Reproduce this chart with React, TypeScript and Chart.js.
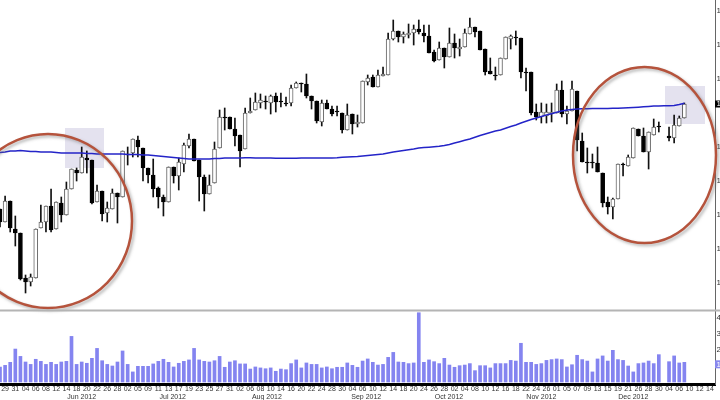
import React, { useEffect, useRef } from 'react'
import { Chart, registerables } from 'chart.js'

Chart.register(...registerables)

// price axis labels are cut off by the window in the picture, only the first digit is readable
const opens = [
  1191, 1178, 1199, 1171, 1167, 1122, 1118, 1122, 1172, 1178, 1194, 1171, 1197, 1185, 1211, 1230, 1227, 1242, 1240, 1198,
  1209, 1187, 1191, 1207, 1203, 1246, 1247, 1260, 1252, 1232, 1225, 1212, 1203, 1198, 1233, 1224, 1236, 1254, 1261, 1240,
  1223, 1206, 1217, 1252, 1283, 1283, 1271, 1265, 1251, 1287, 1290, 1297, 1299, 1297, 1304, 1299, 1297, 1297, 1312, 1317,
  1316, 1304, 1299, 1278, 1297, 1291, 1289, 1287, 1270, 1286, 1276, 1277, 1318, 1323, 1313, 1324, 1325, 1361, 1369, 1363,
  1365, 1367, 1371, 1367, 1364, 1348, 1340, 1352, 1343, 1357, 1351, 1353, 1366, 1373, 1369, 1351, 1329, 1325, 1325, 1341,
  1361, 1363, 1362, 1328, 1328, 1288, 1283, 1284, 1286, 1287, 1310, 1286, 1289, 1309, 1259, 1238, 1238, 1237, 1227, 1198,
  1193, 1201, 1236, 1234, 1242, 1271, 1264, 1248, 1265, 1274, null, 1264, 1262, 1274, 1282,
]
const closes = [
  1178, 1199, 1172, 1167, 1121, 1118, 1123, 1171, 1178, 1194, 1170, 1198, 1185, 1211, 1231, 1227, 1243, 1240, 1197, 1209,
  1186, 1192, 1207, 1203, 1249, 1245, 1261, 1253, 1232, 1225, 1211, 1203, 1198, 1233, 1224, 1238, 1255, 1261, 1239, 1223,
  1206, 1215, 1251, 1283, 1282, 1271, 1264, 1249, 1287, 1289, 1298, 1300, 1298, 1304, 1298, 1298, 1296, 1312, 1317, 1316,
  1304, 1299, 1279, 1297, 1291, 1286, 1288, 1270, 1285, 1276, 1278, 1319, 1322, 1313, 1325, 1326, 1361, 1369, 1363, 1366,
  1367, 1371, 1368, 1364, 1347, 1339, 1352, 1343, 1357, 1352, 1353, 1367, 1373, 1368, 1350, 1328, 1326, 1324, 1342, 1363,
  1364, 1362, 1328, 1327, 1287, 1283, 1288, 1288, 1288, 1310, 1286, 1289, 1311, 1260, 1238, 1237, 1237, 1228, 1197, 1193,
  1201, 1236, 1235, 1243, 1272, 1264, 1248, 1268, 1273, 1273, null, 1262, 1275, 1282, 1296,
]
const highs = [
  1191, 1204, 1199, 1184, 1167, 1125, 1126, 1171, 1195, 1194, 1211, 1198, 1203, 1218, 1231, 1232, 1253, 1249, 1240, 1215,
  1209, 1198, 1211, 1207, 1249, 1253, 1261, 1264, 1252, 1232, 1241, 1213, 1205, 1233, 1233, 1242, 1257, 1266, 1261, 1240,
  1225, 1225, 1258, 1290, 1292, 1283, 1282, 1265, 1292, 1302, 1307, 1306, 1304, 1305, 1307, 1307, 1303, 1315, 1318, 1317,
  1326, 1304, 1299, 1300, 1300, 1294, 1294, 1287, 1296, 1286, 1285, 1319, 1325, 1325, 1330, 1333, 1367, 1380, 1369, 1368,
  1376, 1375, 1380, 1375, 1375, 1350, 1358, 1352, 1372, 1366, 1361, 1371, 1382, 1373, 1369, 1351, 1342, 1333, 1342, 1363,
  1365, 1369, 1362, 1332, 1328, 1296, 1297, 1296, 1297, 1316, 1319, 1294, 1319, 1309, 1267, 1252, 1246, 1253, 1227, 1203,
  1202, 1236, 1237, 1245, 1272, 1271, 1272, 1268, 1281, 1278, null, 1273, 1285, 1284, 1297,
]
const lows = [
  1173, 1178, 1168, 1154, 1120, 1107, 1114, 1122, 1172, 1168, 1168, 1171, 1178, 1185, 1211, 1219, 1227, 1227, 1196, 1198,
  1179, 1178, 1191, 1177, 1203, 1235, 1243, 1243, 1219, 1217, 1203, 1192, 1184, 1198, 1217, 1210, 1228, 1252, 1239, 1199,
  1189, 1206, 1217, 1252, 1270, 1271, 1254, 1233, 1251, 1287, 1290, 1292, 1291, 1286, 1288, 1293, 1294, 1294, 1312, 1308,
  1302, 1291, 1277, 1274, 1291, 1284, 1284, 1267, 1270, 1266, 1273, 1277, 1315, 1313, 1313, 1324, 1325, 1360, 1358, 1357,
  1362, 1355, 1366, 1358, 1347, 1338, 1340, 1332, 1343, 1342, 1344, 1353, 1366, 1363, 1350, 1325, 1326, 1320, 1325, 1341,
  1351, 1355, 1322, 1309, 1285, 1280, 1277, 1277, 1278, 1287, 1283, 1276, 1289, 1249, 1238, 1227, 1232, 1228, 1193, 1186,
  1181, 1201, 1224, 1234, 1242, 1264, 1248, 1231, 1265, 1268, null, 1259, 1257, 1274, 1282,
]
const averages = [
  1247.5, 1248, 1249, 1249, 1249.5, 1249, 1248.5, 1248.5, 1248, 1248, 1248, 1247.5, 1247, 1247, 1247, 1247, 1247, 1246.5, 1246.5, 1246,
  1246, 1246, 1246, 1246, 1246, 1245.5, 1245.5, 1245.5, 1245, 1245, 1244.5, 1244, 1243.5, 1243, 1242.5, 1242, 1241.5, 1241, 1241, 1241,
  1241, 1241, 1241.5, 1241.5, 1242, 1242, 1242, 1242, 1242.3, 1242.3, 1242, 1242, 1242, 1242, 1241.7, 1241.7, 1241.7, 1241.7, 1241.7, 1242,
  1242, 1242, 1242, 1242, 1242, 1242, 1242.2, 1242.7, 1243, 1243.3, 1243.5, 1244, 1244.5, 1245, 1245.5, 1246, 1247, 1248, 1248.7, 1249.5,
  1250.3, 1251, 1252, 1252.5, 1252.8, 1253.2, 1253.7, 1254.5, 1255.5, 1257, 1258.3, 1259.7, 1261, 1262.7, 1264.5, 1266, 1267.5, 1269, 1270, 1271.7,
  1273.5, 1275, 1277, 1278.7, 1280.5, 1282, 1283.5, 1285, 1286.3, 1287.7, 1289, 1290, 1290.5, 1291, 1291.2, 1291.3, 1291.4, 1291.5, 1291.6, 1291.6,
  1291.7, 1291.7, 1292, 1292.2, 1292.5, 1292.8, 1293.2, 1293.6, 1294, 1294.1, 1294.2, 1294.3, 1294.5, 1295.5, 1296.7,
]
const volumes = [
  0.94, 1.04, 1.23, 2.06, 1.6, 1.25, 1.1, 1.42, 1.29, 1.1, 1.23, 1.1, 1.25, 1.29, 2.85, 1.1, 1.25, 1.17, 1.48, 2.1,
  1.33, 1.1, 1, 1.25, 1.94, 1.1, 0.63, 0.98, 0.98, 0.98, 1.13, 1.29, 1.42, 1.23, 0.94, 1.17, 1.29, 1.38, 2.1, 1.38,
  1.29, 1.25, 1.33, 1.6, 0.92, 1.25, 1.33, 1.13, 1.13, 0.81, 0.94, 0.88, 0.83, 0.88, 0.67, 0.81, 0.77, 1.15, 1.38, 0.88,
  1.19, 1.1, 1.1, 0.88, 0.94, 0.83, 0.92, 0.92, 1.19, 1.04, 0.92, 1.31, 1.44, 1.23, 1.06, 1.1, 1.54, 1.85, 1.25, 1.23,
  1.15, 1.19, 4.33, 1.23, 1.38, 1.27, 1.15, 1.48, 1.06, 0.92, 1.02, 1.06, 1.15, 0.71, 1.02, 1.02, 0.88, 1.15, 1.15, 1.15,
  1.35, 1.31, 2.42, 1.23, 1.23, 1.1, 1.15, 1.35, 1.4, 1.44, 1.4, 0.94, 1.08, 1.67, 1.4, 1.31, 0.63, 1.44, 1.63, 1.31,
  1.98, 1.4, 1.35, 1, 0.63, 1.15, 1.19, 1.31, 1.15, 1.71, null, 1.27, 1.63, 1.19, 1.23,
]

// one label every second bar, starting at the second bar
const dayLabels = [
  '29', '31', '04', '06', '08', '12', '14', '18', '20', '22', '26', '28', '02', '05', '09', '11', '13', '17', '19', '23',
  '25', '27', '31', '02', '06', '08', '10', '14', '16', '20', '22', '24', '28', '30', '04', '06', '10', '12', '14', '18',
  '20', '24', '26', '28', '02', '04', '08', '10', '12', '16', '18', '22', '24', '26', '01', '05', '07', '09', '13', '15',
  '19', '21', '26', '28', '30', '04', '06', '10', '12', '14',
]
const monthLabels = ['Jun 2012', 'Jul 2012', 'Aug 2012', 'Sep 2012', 'Oct 2012', 'Nov 2012', 'Dec 2012']
const monthBars = [7, 27.8, 49.3, 72, 90.9, 112, 133]
const priceTicks = [1389, 1372, 1355, 1338, 1321, 1287, 1253, 1236, 1219, 1202, 1185, 1168, 1151, 1134, 1117, 1100]
const volumeTicks = [2, 3, 4]

const BAR_COUNT = 141
const labels = Array.from({ length: BAR_COUNT }, (_, i) => (i % 2 === 1 ? dayLabels[(i - 1) / 2] ?? '' : ''))
const isUp = (i: number) => (closes[i] ?? 0) >= (opens[i] ?? 0)

const noPadding = (s: any) => {
  s.paddingTop = 0
  s.paddingBottom = 0
  s.paddingLeft = 0
  s.paddingRight = 0
}

const annotations = {
  id: 'annotations',
  beforeDatasetsDraw(chart: Chart) {
    const { ctx } = chart
    ctx.save()
    ctx.fillStyle = '#e4e2ef'
    ctx.fillRect(65, 128, 39, 40)
    ctx.fillRect(665, 86, 40, 38)
    ctx.restore()
  },
  afterDatasetsDraw(chart: Chart) {
    const { ctx } = chart
    ctx.save()
    ctx.shadowColor = 'rgba(110,110,110,0.5)'
    ctx.shadowBlur = 3
    ctx.shadowOffsetX = 2
    ctx.shadowOffsetY = 2
    ctx.strokeStyle = '#b5533c'
    ctx.lineWidth = 2.5
    ctx.beginPath()
    ctx.ellipse(48, 221, 84, 87, 0, 0, Math.PI * 2)
    ctx.stroke()
    ctx.beginPath()
    ctx.ellipse(644.5, 155, 71.5, 88, 0, 0, Math.PI * 2)
    ctx.stroke()
    ctx.restore()
  },
  afterDraw(chart: Chart) {
    const { ctx, scales } = chart
    ctx.save()
    // band between the two panels
    ctx.fillStyle = '#b4b4b4'
    ctx.fillRect(0, 309.5, 720, 2)
    // current value boxes on the axes
    const lastPrice = closes[closes.length - 1] as number
    const lastVolume = volumes[volumes.length - 1] as number
    const py = scales.y.getPixelForValue(lastPrice)
    const vy = scales.yv.getPixelForValue(lastVolume) + 2
    ctx.font = '8px "Liberation Sans"'
    ctx.textBaseline = 'middle'
    ctx.fillStyle = '#000000'
    ctx.fillRect(715, py - 3.5, 5, 7)
    ctx.fillStyle = '#8888ee'
    ctx.fillRect(715, vy - 4, 5, 8)
    ctx.fillStyle = '#ffffff'
    ctx.fillText(String(lastPrice)[0], 716.5, py)
    ctx.fillText(String(lastVolume)[0], 716.5, vy)
    ctx.restore()
  },
}

export default function App() {
  const canvasRef = useRef<HTMLCanvasElement>(null)

  useEffect(() => {
    document.body.style.margin = '0'
    if (!canvasRef.current) return
    const tickFont = { family: '"Liberation Sans", Arial, sans-serif', size: 7 }
    const axisFont = { family: '"Liberation Sans", Arial, sans-serif', size: 8 }
    const chart = new Chart(canvasRef.current, {
      type: 'bar',
      data: {
        labels,
        datasets: [
          {
            type: 'line',
            data: averages,
            yAxisID: 'y',
            borderColor: '#2424c8',
            borderWidth: 1.5,
            pointRadius: 0,
            tension: 0,
            order: 1,
          },
          {
            data: opens.map((o, i) => (o === null ? null : [o, closes[i]])),
            yAxisID: 'y',
            grouped: false,
            barThickness: 4,
            backgroundColor: opens.map((_, i) => (isUp(i) ? '#ffffff' : '#000000')),
            borderColor: opens.map((_, i) => (isUp(i) ? '#666666' : '#000000')),
            borderWidth: 1,
            borderSkipped: false,
            order: 2,
            clip: false,
          },
          {
            data: highs.map((h, i) => (h === null ? null : [lows[i], h])),
            yAxisID: 'y',
            grouped: false,
            barThickness: 1,
            backgroundColor: '#111111',
            order: 3,
            clip: false,
          },
          {
            data: volumes,
            yAxisID: 'yv',
            grouped: false,
            barThickness: 3,
            backgroundColor: '#8484f0',
            order: 4,
            clip: false,
          },
        ] as any,
      },
      options: {
        responsive: false,
        animation: false,
        devicePixelRatio: 1,
        layout: { padding: 0 },
        plugins: { legend: { display: false }, tooltip: { enabled: false } },
        scales: {
          x: {
            type: 'category',
            position: 'bottom',
            offset: false,
            weight: 0,
            grid: { display: false, drawTicks: false },
            border: { color: '#000000', width: 3 },
            ticks: {
              autoSkip: false,
              maxRotation: 0,
              padding: 1,
              color: '#333333',
              font: tickFont,
              callback: (_v, i) => labels[i],
            },
            afterFit: (s) => { s.height = 9; noPadding(s) },
          },
          xm: {
            type: 'linear',
            position: 'bottom',
            min: 0,
            max: BAR_COUNT - 1,
            weight: 1,
            grid: { display: false, drawTicks: false },
            border: { display: false },
            afterBuildTicks: (s) => { s.ticks = monthBars.map((value) => ({ value })) },
            ticks: {
              autoSkip: false,
              maxRotation: 0,
              padding: 0,
              color: '#333333',
              font: tickFont,
              callback: (v) => monthLabels[monthBars.indexOf(Number(v))],
            },
            afterFit: (s) => { s.height = 7; noPadding(s) },
          },
          y: {
            type: 'linear',
            position: 'right',
            stack: 'panels',
            stackWeight: 311,
            min: 1089,
            max: 1400,
            grid: { display: false, drawTicks: false },
            border: { color: '#666666', width: 1 },
            afterBuildTicks: (s) => { s.ticks = priceTicks.map((value) => ({ value })) },
            ticks: { padding: 1.5, color: '#333333', font: axisFont, callback: (v) => String(v) },
            afterFit: (s) => { s.width = 5; noPadding(s) },
          },
          yv: {
            type: 'linear',
            position: 'right',
            stack: 'panels',
            stackWeight: 73,
            min: -0.125,
            max: 4.4375,
            grid: { display: false, drawTicks: false },
            border: { color: '#666666', width: 1 },
            afterBuildTicks: (s) => { s.ticks = volumeTicks.map((value) => ({ value })) },
            ticks: { padding: 1.5, color: '#333333', font: axisFont, callback: (v) => String(v) },
            afterFit: (s) => { s.width = 5; noPadding(s) },
          },
        },
      },
      plugins: [annotations],
    })
    return () => chart.destroy()
  }, [])

  return (
    <div style={{ width: 720, height: 400, background: '#ffffff' }}>
      <canvas ref={canvasRef} width={720} height={400} style={{ display: 'block', filter: 'blur(0.35px)' }} />
    </div>
  )
}
